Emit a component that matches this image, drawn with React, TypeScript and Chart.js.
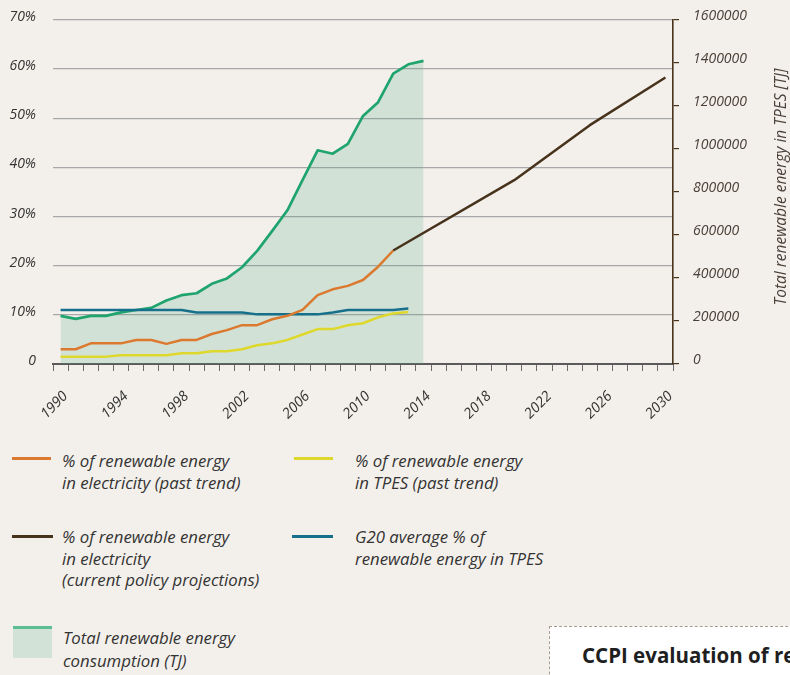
import React, { useEffect, useRef } from 'react';
import { Chart, registerables } from 'chart.js';

Chart.register(...registerables);

// ---------- data ----------
const years = [
  '1990', '1991', '1992', '1993', '1994', '1995', '1996', '1997', '1998', '1999',
  '2000', '2001', '2002', '2003', '2004', '2005', '2006', '2007', '2008', '2009',
  '2010', '2011', '2012', '2013', '2014', '2015', '2016', '2017', '2018', '2019',
  '2020', '2021', '2022', '2023', '2024', '2025', '2026', '2027', '2028', '2029', '2030',
];

// Total renewable energy consumption (TJ), 1990-2014
const totalRenewableTJ = [
  224000, 210000, 224000, 224000, 240000, 251000, 261000, 295000, 320000, 329000,
  373000, 398000, 450000, 526000, 619000, 715000, 855000, 994000, 978000, 1024000,
  1154000, 1218000, 1351000, 1394000, 1410000,
];

// % of renewable energy in electricity (past trend), 1990-2012
const elecPastPct = [
  3.0, 3.0, 4.2, 4.2, 4.2, 4.9, 4.9, 4.1, 4.9, 4.9,
  6.1, 6.9, 7.9, 7.9, 9.1, 9.8, 11.0, 14.0, 15.2, 15.9,
  17.1, 19.8, 23.1,
];

// % of renewable energy in TPES (past trend), 1990-2013
const tpesPastPct = [
  1.5, 1.5, 1.5, 1.5, 1.8, 1.8, 1.8, 1.8, 2.2, 2.2,
  2.6, 2.6, 3.0, 3.8, 4.2, 4.9, 6.0, 7.1, 7.1, 7.9,
  8.3, 9.5, 10.3, 10.6,
];

// G20 average % of renewable energy in TPES, 1990-2013
const g20AvgPct = [
  11.0, 11.0, 11.0, 11.0, 11.0, 11.0, 11.0, 11.0, 11.0, 10.5,
  10.5, 10.5, 10.5, 10.1, 10.1, 10.1, 10.1, 10.1, 10.5, 11.0,
  11.0, 11.0, 11.0, 11.3,
];

// % of renewable energy in electricity (current policy projections)
const projYears = ['2012', '2020', '2025', '2030'];
const projPct = [23.1, 37.4, 48.6, 58.3];

const pctMax = 70;
const pctStep = 10;
const tjMax = 1600000;
const tjStep = 200000;
const labelEvery = 4;

const RIGHT_TITLE = 'Total renewable energy in TPES [TJ]';

// ---------- styles ----------
const FONT = "'Open Sans', sans-serif";
const BG = '#f3f0eb';
const C_GREEN = '#1fa46e';
const C_GREEN_FILL = 'rgba(78,165,125,0.2)';
const C_ORANGE = '#db7a2f';
const C_YELLOW = '#dfd82c';
const C_BLUE = '#17708b';
const C_BROWN = '#47321c';
const C_GRID = '#a8a8aa';
const C_TEXT = '#333333';
const C_RIGHT = '#4a4038';

const rightTitlePlugin = {
  id: 'rightTitle',
  afterDraw(chart: any) {
    const s = chart.scales.y2;
    const ctx = chart.ctx;
    ctx.save();
    ctx.translate(s.right - 8, (s.top + s.bottom) / 2 - 5);
    ctx.rotate(-Math.PI / 2);
    ctx.font = `italic 15.5px ${FONT}`;
    ctx.fillStyle = C_RIGHT;
    ctx.textAlign = 'center';
    ctx.textBaseline = 'middle';
    ctx.fillText(RIGHT_TITLE, 0, 0);
    ctx.restore();
  },
};

function ChartCanvas() {
  const ref = useRef<HTMLCanvasElement | null>(null);
  useEffect(() => {
    if (!ref.current) return;
    const chart = new Chart(ref.current, {
      type: 'line',
      data: {
        labels: years,
        datasets: [
          {
            label: '% of renewable energy in electricity (current policy projections)',
            data: projYears.map((y, i) => ({ x: y, y: projPct[i] })),
            borderColor: C_BROWN,
            borderWidth: 2.5,
            pointRadius: 0,
            spanGaps: true,
            yAxisID: 'y',
            order: 1,
          },
          {
            label: '% of renewable energy in electricity (past trend)',
            data: elecPastPct,
            borderColor: C_ORANGE,
            borderWidth: 2.5,
            pointRadius: 0,
            yAxisID: 'y',
            order: 2,
          },
          {
            label: 'G20 average % of renewable energy in TPES',
            data: g20AvgPct,
            borderColor: C_BLUE,
            borderWidth: 2.5,
            pointRadius: 0,
            yAxisID: 'y',
            order: 3,
          },
          {
            label: '% of renewable energy in TPES (past trend)',
            data: tpesPastPct,
            borderColor: C_YELLOW,
            borderWidth: 2.5,
            pointRadius: 0,
            yAxisID: 'y',
            order: 4,
          },
          {
            label: 'Total renewable energy consumption (TJ)',
            data: totalRenewableTJ,
            borderColor: C_GREEN,
            backgroundColor: C_GREEN_FILL,
            borderWidth: 2.7,
            pointRadius: 0,
            fill: 'origin',
            yAxisID: 'y2',
            order: 5,
          },
        ],
      },
      options: {
        animation: false,
        responsive: true,
        maintainAspectRatio: false,
        events: [],
        layout: { padding: { top: 20, left: 0, right: 0, bottom: 0 } },
        elements: { line: { tension: 0, borderJoinStyle: 'round', borderCapStyle: 'butt' } },
        plugins: {
          legend: { display: false },
          tooltip: { enabled: false },
        },
        scales: {
          x: {
            type: 'category',
            offset: true,
            grid: {
              display: true,
              offset: true,
              drawOnChartArea: false,
              drawTicks: true,
              tickLength: 7,
              color: '#6a6a6a',
              lineWidth: 1,
            },
            border: { display: true, color: '#5a5a5a', width: 2 },
            ticks: {
              autoSkip: false,
              minRotation: 45,
              maxRotation: 45,
              padding: 17,
              labelOffset: 5,
              color: C_TEXT,
              font: { family: FONT, size: 14.3, style: 'italic' },
              callback: (_v: any, i: number) => (i % labelEvery === 0 ? years[i] : ''),
            },
            afterFit: (s: any) => {
              s.height = 56;
              s.paddingLeft = 0;
              s.paddingRight = 0;
            },
          },
          y: {
            position: 'left',
            min: 0,
            max: pctMax,
            grid: { color: C_GRID, lineWidth: 1.3, drawTicks: false },
            border: { display: false },
            ticks: {
              stepSize: pctStep,
              padding: 17,
              labelOffset: -3,
              color: C_TEXT,
              font: { family: FONT, size: 14, style: 'italic' },
              callback: (v: any) => (v === 0 ? '0' : `${v}%`),
            },
            afterFit: (s: any) => {
              s.width = 53;
              s.paddingTop = 0;
              s.paddingBottom = 0;
            },
          },
          y2: {
            position: 'right',
            min: 0,
            max: tjMax,
            grid: {
              drawOnChartArea: false,
              drawTicks: true,
              tickLength: 6,
              color: C_BROWN,
              lineWidth: 1.2,
            },
            border: { display: true, color: C_BROWN, width: 1.6 },
            ticks: {
              stepSize: tjStep,
              padding: 14,
              labelOffset: -4,
              color: C_RIGHT,
              font: { family: FONT, size: 14, style: 'italic' },
              callback: (v: any) => String(v),
            },
            afterFit: (s: any) => {
              s.width = 117;
              s.paddingTop = 0;
              s.paddingBottom = 0;
            },
          },
        },
      },
      plugins: [rightTitlePlugin],
    } as any);
    return () => chart.destroy();
  }, []);
  return (
    <div style={{ position: 'absolute', left: 0, top: 0, width: 790, height: 420 }}>
      <canvas ref={ref} />
    </div>
  );
}

const legendText: React.CSSProperties = {
  position: 'absolute',
  fontFamily: FONT,
  fontStyle: 'italic',
  fontSize: 16.8,
  lineHeight: '21.5px',
  color: C_TEXT,
  whiteSpace: 'nowrap',
};

function Swatch({ left, top, width, color }: { left: number; top: number; width: number; color: string }) {
  return <div style={{ position: 'absolute', left, top, width, height: 3, background: color }} />;
}

function Legend() {
  return (
    <>
      <Swatch left={12} top={457} width={39} color={C_ORANGE} />
      <div style={{ ...legendText, left: 62, top: 450 }}>
        % of renewable energy<br />in electricity (past trend)
      </div>

      <Swatch left={294} top={457} width={39} color={C_YELLOW} />
      <div style={{ ...legendText, left: 355, top: 450 }}>
        % of renewable energy<br />in TPES (past trend)
      </div>

      <Swatch left={12} top={535} width={41} color={C_BROWN} />
      <div style={{ ...legendText, left: 62, top: 526 }}>
        % of renewable energy<br />in electricity<br />(current policy projections)
      </div>

      <Swatch left={292} top={535} width={41} color={C_BLUE} />
      <div style={{ ...legendText, left: 355, top: 526 }}>
        G20 average % of<br />renewable energy in TPES
      </div>

      <div
        style={{
          position: 'absolute',
          left: 13,
          top: 626,
          width: 39,
          height: 29,
          background: '#d3e2d6',
          borderTop: '3px solid #5cbf94',
        }}
      />
      <div style={{ ...legendText, left: 63, top: 626, lineHeight: '23px' }}>
        Total renewable energy<br />consumption (TJ)
      </div>
    </>
  );
}

export default function App() {
  return (
    <div
      style={{
        position: 'absolute',
        left: 0,
        top: 0,
        width: 790,
        height: 675,
        overflow: 'hidden',
        background: BG,
      }}
    >
      <ChartCanvas />
      <Legend />
      <div
        style={{
          position: 'absolute',
          left: 549,
          top: 626,
          width: 400,
          height: 200,
          background: '#ffffff',
          border: '1.5px dashed #a89a8e',
          boxSizing: 'border-box',
        }}
      >
        <div
          style={{
            position: 'absolute',
            left: 32,
            top: 14,
            fontFamily: FONT,
            fontWeight: 700,
            fontSize: 20.5,
            color: '#1f1f1f',
            whiteSpace: 'nowrap',
          }}
        >
          CCPI evaluation of renewable energy
        </div>
      </div>
    </div>
  );
}
